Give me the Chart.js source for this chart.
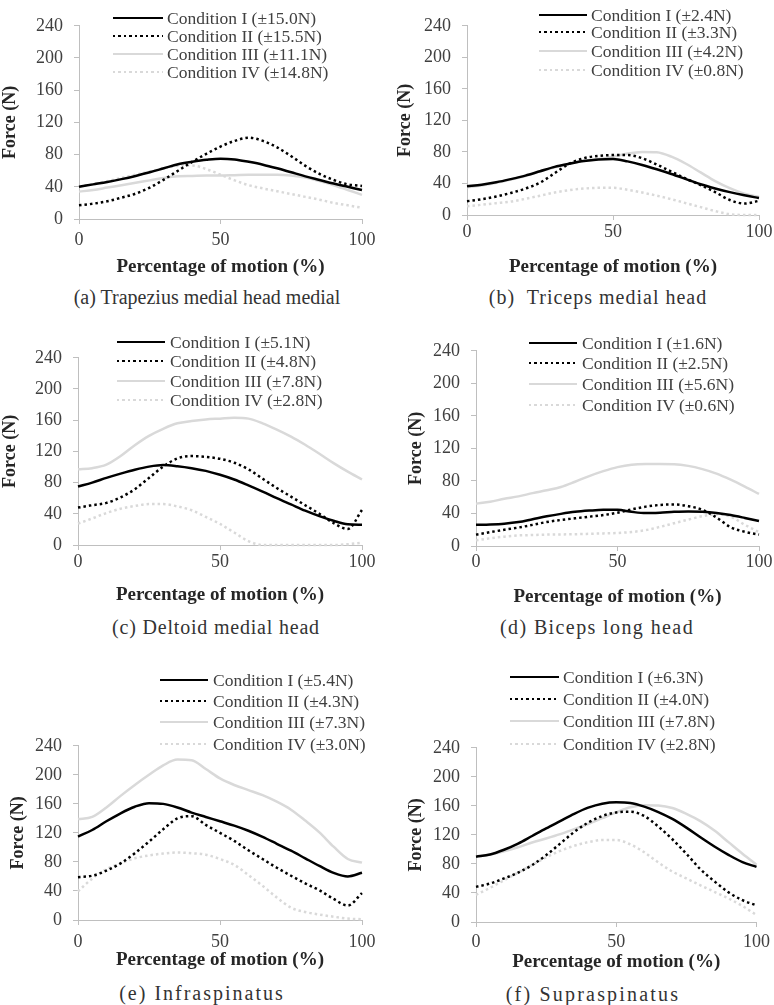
<!DOCTYPE html>
<html>
<head>
<meta charset="utf-8">
<script src="https://cdn.jsdelivr.net/npm/chart.js@4.4.1/dist/chart.umd.min.js"></script>
<style>
  body { margin: 0; background: #fff; font-family: 'Liberation Serif', 'Times New Roman', serif; }
  #page { position: relative; width: 774px; height: 1005px; overflow: hidden; }
  canvas { position: absolute; }
  .swatch { position: absolute; height: 2.5px; }
  .legtext { position: absolute; font-size: 17.5px; line-height: 20px; color: #404040; white-space: nowrap; }
  .caption { position: absolute; font-size: 20px; line-height: 22px; color: #333; white-space: pre; transform: translateX(-50%); }
</style>
</head>
<body>
<div id="page"></div>
<script>
// eje x: porcentaje del movimiento, cada 5 %
const pct = [0, 5, 10, 15, 20, 25, 30, 35, 40, 45, 50, 55, 60, 65, 70, 75, 80, 85, 90, 95, 100];
const xTicks = [0, 50, 100];
const yTicks = [0, 40, 80, 120, 160, 200, 240];
const conditions = ['Condition I', 'Condition II', 'Condition III', 'Condition IV'];

// (a) Trapezius medial head medial
const trapeziusI   = [40, 43, 46, 49.5, 53.5, 58, 63, 68, 71, 73.5, 75, 74, 71, 67.5, 63, 58, 53, 48.5, 44, 40, 36];
const trapeziusII  = [17, 19, 22, 26.5, 31.5, 39, 49, 60, 71, 81, 90, 97, 101, 97, 89, 78, 66, 56, 48.5, 43, 41];
const trapeziusIII = [34, 36, 39, 42, 45, 48, 51, 53, 53.5, 54, 54, 54.5, 55, 55, 55, 54, 51.5, 47, 42, 36, 30];
const trapeziusIV  = [40, 43.5, 47, 51, 55, 59, 63, 66, 66.5, 62, 55, 48, 42, 38, 34.5, 31, 27.5, 24, 20, 17, 14];
const trapeziusSD  = ['±15.0N', '±15.5N', '±11.1N', '±14.8N'];

// (b) Triceps medial head
const tricepsI   = [36.5, 38.5, 41.5, 45.5, 50, 55.5, 61, 65, 68.5, 70.5, 71, 68, 63.5, 58, 52, 45.5, 39, 33.7, 29, 25, 21.5];
const tricepsII  = [17.5, 20, 23.5, 28, 33.5, 41, 53, 65, 72, 75, 76, 76, 72, 64, 55, 46, 38, 29, 19, 14.5, 18];
const tricepsIII = [35, 37.5, 41, 45, 49.5, 55, 60.5, 65, 68.5, 71, 74, 78, 80, 79.5, 74, 65, 54, 43, 34, 27, 23];
const tricepsIV  = [11, 13, 15, 17, 20.5, 24.5, 28.5, 31.5, 33.5, 34.5, 34.5, 32, 28.5, 24.5, 20, 15, 10, 5, 1, 0, 0];
const tricepsSD  = ['±2.4N', '±3.3N', '±4.2N', '±0.8N'];

// (c) Deltoid medial head
const deltoidI   = [75, 80, 86, 91.5, 96.5, 100.5, 102.5, 101, 98.5, 95, 90, 84, 76.5, 68.5, 60, 52, 44, 37, 31, 26.5, 26];
const deltoidII  = [48, 51, 54, 61, 71.5, 86, 100.5, 111, 114, 113, 110.5, 105.5, 97, 85, 73, 62, 51, 40, 28, 20.5, 45];
const deltoidIII = [97, 98.5, 103, 114, 128, 140, 149, 156, 159, 161, 162, 163, 162, 156, 148, 139, 128.5, 117, 105, 94, 84];
const deltoidIV  = [27.5, 34, 41, 46.5, 50, 52.5, 52.5, 49.5, 44.5, 36, 27, 16, 5, 0, 0, 0, 0, 0, 0, 1, 3];
const deltoidSD  = ['±5.1N', '±4.8N', '±7.8N', '±2.8N'];

// (d) Biceps long head
const bicepsI   = [26, 26.5, 27.5, 29.5, 33, 36.5, 39.5, 42, 43.5, 44.5, 44.5, 42, 40.5, 41, 42, 42.5, 42, 40.5, 38, 34.5, 30.7];
const bicepsII  = [14, 17, 20, 22.7, 26, 29.5, 32, 34, 36, 38, 41, 45, 48.4, 50.5, 51, 49, 44.5, 35, 23, 17.5, 14];
const bicepsIII = [52, 54.5, 58, 61, 65, 68.5, 72.5, 79, 86, 92, 97, 100, 100.7, 100.7, 100.5, 98.5, 94.5, 89, 81.5, 73, 64];
const bicepsIV  = [7, 9.5, 11.5, 13, 13.5, 14, 14.2, 14.5, 15, 15.5, 16, 17.2, 19.5, 23.5, 28, 32.5, 36.6, 39, 36, 26, 17];
const bicepsSD  = ['±1.6N', '±2.5N', '±5.6N', '±0.6N'];

// (e) Infraspinatus
const infraI   = [115, 124, 136, 147, 156, 161, 160, 155, 148, 142, 136, 130, 123, 114.5, 105, 95.5, 85, 74.6, 65, 60, 65];
const infraII  = [59, 61, 68, 78, 92, 108, 125, 140, 143, 131, 120, 109, 96, 84, 72, 61, 50.5, 41, 29, 20, 37];
const infraIII = [139, 142, 155, 171, 186, 200, 213, 221, 220, 208, 195, 186, 179, 172, 163, 152, 137, 120.7, 101, 84, 79];
const infraIV  = [39.5, 57, 70, 78, 85, 89, 91.5, 93, 92, 90, 84, 76, 62, 47, 31, 17, 11, 7.5, 4.5, 2, 1];
const infraSD  = ['±5.4N', '±4.3N', '±7.3N', '±3.0N'];

// (f) Supraspinatus
const supraI   = [90, 93, 99.5, 108, 118.5, 129, 139, 149, 157.5, 163, 165, 164, 159, 151.5, 142, 130, 116.7, 104, 92.5, 82.5, 76];
const supraII  = [48.4, 53, 60, 68, 78.5, 92, 108, 124, 137, 146, 151, 152, 146, 131.5, 114, 94, 72.7, 56, 41, 30, 23];
const supraIII = [90, 93, 97.5, 103, 109.5, 115, 121, 128, 135, 143, 151, 158, 161, 160.5, 157, 149, 139, 126, 110, 94, 79];
const supraIV  = [37.4, 47, 57.5, 68, 78.5, 89, 98, 105, 110, 113, 113, 107, 96, 82, 69.5, 60, 50.6, 41.5, 32.5, 22, 9.7];
const supraSD  = ['±6.3N', '±4.0N', '±7.8N', '±2.8N'];

// estilo de cada condición
const lineStyles = [
  { color: '#000000', dash: [] },
  { color: '#000000', dash: [2.5, 3] },
  { color: '#d9d9d9', dash: [] },
  { color: '#d9d9d9', dash: [2.5, 3] }
];

const FONT = "'Liberation Serif', 'Times New Roman', serif";

const panels = [
  { caption: '(a) Trapezius medial head medial', capX: 207, capY: 297, capSpacing: 0,
    series: [trapeziusI, trapeziusII, trapeziusIII, trapeziusIV], sd: trapeziusSD,
    col: 0, plot: { l: 79, r: 362, t: 18, b: 219 }, xTickPad: 5, xTitleY: 267, yTitlePad: 0,
    leg: { x1: 113, x2: 163, tx: 167, rows: [18, 36, 54, 72] } },
  { caption: '(b)  Triceps medial head', capX: 598, capY: 297, capSpacing: 1,
    series: [tricepsI, tricepsII, tricepsIII, tricepsIV], sd: tricepsSD,
    col: 387, plot: { l: 467, r: 759, t: 18, b: 215 }, xTickPad: 1, xTitleY: 267, yTitlePad: 8,
    leg: { x1: 539, x2: 587, tx: 591, rows: [15, 32, 51, 70] } },
  { caption: '(c) Deltoid medial head', capX: 216, capY: 627, capSpacing: 0.8,
    series: [deltoidI, deltoidII, deltoidIII, deltoidIV], sd: deltoidSD,
    col: 0, plot: { l: 78, r: 362, t: 350, b: 545 }, xTickPad: 1, xTitleY: 595, yTitlePad: 0,
    leg: { x1: 117, x2: 165, tx: 170, rows: [342, 361, 381, 400] } },
  { caption: '(d) Biceps long head', capX: 597, capY: 627, capSpacing: 1.4,
    series: [bicepsI, bicepsII, bicepsIII, bicepsIV], sd: bicepsSD,
    col: 387, plot: { l: 476, r: 759, t: 343, b: 546 }, xTickPad: 0, xTitleY: 597, yTitlePad: 19,
    leg: { x1: 529, x2: 577, tx: 582, rows: [343, 363, 384, 405] } },
  { caption: '(e) Infraspinatus', capX: 202, capY: 993, capSpacing: 2,
    series: [infraI, infraII, infraIII, infraIV], sd: infraSD,
    col: 0, plot: { l: 78, r: 362, t: 738, b: 920 }, xTickPad: 6, xTitleY: 960, yTitlePad: 8,
    leg: { x1: 160, x2: 208, tx: 213, rows: [680, 701, 722, 744] } },
  { caption: '(f) Supraspinatus', capX: 593, capY: 994, capSpacing: 2.2,
    series: [supraI, supraII, supraIII, supraIV], sd: supraSD,
    col: 387, plot: { l: 476, r: 759, t: 740, b: 922 }, xTickPad: 4, xTitleY: 962, yTitlePad: 19,
    leg: { x1: 510, x2: 559, tx: 563, rows: [677, 699, 721, 744] } }
];

const page = document.getElementById('page');

panels.forEach(p => {
  const top = p.plot.t - 14;
  const bottom = p.xTitleY + 11;
  const canvas = document.createElement('canvas');
  canvas.width = 387;
  canvas.height = bottom - top;
  canvas.style.left = p.col + 'px';
  canvas.style.top = top + 'px';
  page.appendChild(canvas);

  const datasets = p.series.map((vals, i) => ({
    label: conditions[i] + ' (' + p.sd[i] + ')',
    data: pct.map((x, k) => ({ x: x, y: vals[k] })),
    borderColor: lineStyles[i].color,
    borderDash: lineStyles[i].dash,
    borderWidth: 2.5,
    pointRadius: 0,
    cubicInterpolationMode: 'monotone',
    clip: 4
  }));

  new Chart(canvas, {
    type: 'line',
    data: { datasets: datasets },
    options: {
      responsive: false,
      animation: false,
      events: [],
      layout: { padding: { left: 0, top: 14, bottom: 0, right: 387 - (p.plot.r - p.col) } },
      plugins: { legend: { display: false }, tooltip: { enabled: false } },
      scales: {
        x: {
          type: 'linear', min: 0, max: 100,
          afterBuildTicks: s => { s.ticks = xTicks.map(v => ({ value: v })); },
          ticks: { color: '#404040', font: { family: FONT, size: 18 }, padding: p.xTickPad, maxRotation: 0 },
          grid: { drawOnChartArea: false, drawTicks: true, tickLength: 5, color: '#bfbfbf' },
          border: { color: '#bfbfbf', width: 1 },
          title: { display: true, text: 'Percentage of motion (%)', color: '#262626',
                   font: { family: FONT, size: 19, weight: 'bold' }, padding: 0 },
          afterFit: s => { s.height = bottom - p.plot.b; }
        },
        y: {
          min: 0, max: 240,
          afterBuildTicks: s => { s.ticks = yTicks.map(v => ({ value: v })); },
          ticks: { color: '#404040', font: { family: FONT, size: 18 }, padding: 11 },
          grid: { drawOnChartArea: false, drawTicks: true, tickLength: 5, color: '#bfbfbf' },
          border: { color: '#bfbfbf', width: 1 },
          title: { display: true, text: 'Force (N)', color: '#262626',
                   font: { family: FONT, size: 18, weight: 'bold' }, padding: { top: p.yTitlePad, bottom: 0 } },
          afterFit: s => { s.width = p.plot.l - p.col; }
        }
      }
    }
  });

  // leyenda en HTML
  datasets.forEach((d, i) => {
    const y = p.leg.rows[i];
    const sw = document.createElement('div');
    sw.className = 'swatch';
    sw.style.left = p.leg.x1 + 'px';
    sw.style.top = (y - 1.25) + 'px';
    sw.style.width = (p.leg.x2 - p.leg.x1) + 'px';
    const c = lineStyles[i].color;
    sw.style.background = lineStyles[i].dash.length
      ? 'repeating-linear-gradient(90deg, ' + c + ' 0 2.5px, transparent 2.5px 5.5px)'
      : c;
    page.appendChild(sw);

    const t = document.createElement('div');
    t.className = 'legtext';
    t.style.left = p.leg.tx + 'px';
    t.style.top = (y - 10) + 'px';
    t.textContent = d.label;
    page.appendChild(t);
  });

  const cap = document.createElement('div');
  cap.className = 'caption';
  cap.style.left = p.capX + 'px';
  cap.style.top = (p.capY - 11) + 'px';
  cap.style.letterSpacing = p.capSpacing + 'px';
  cap.textContent = p.caption;
  page.appendChild(cap);
});
</script>
</body>
</html>
